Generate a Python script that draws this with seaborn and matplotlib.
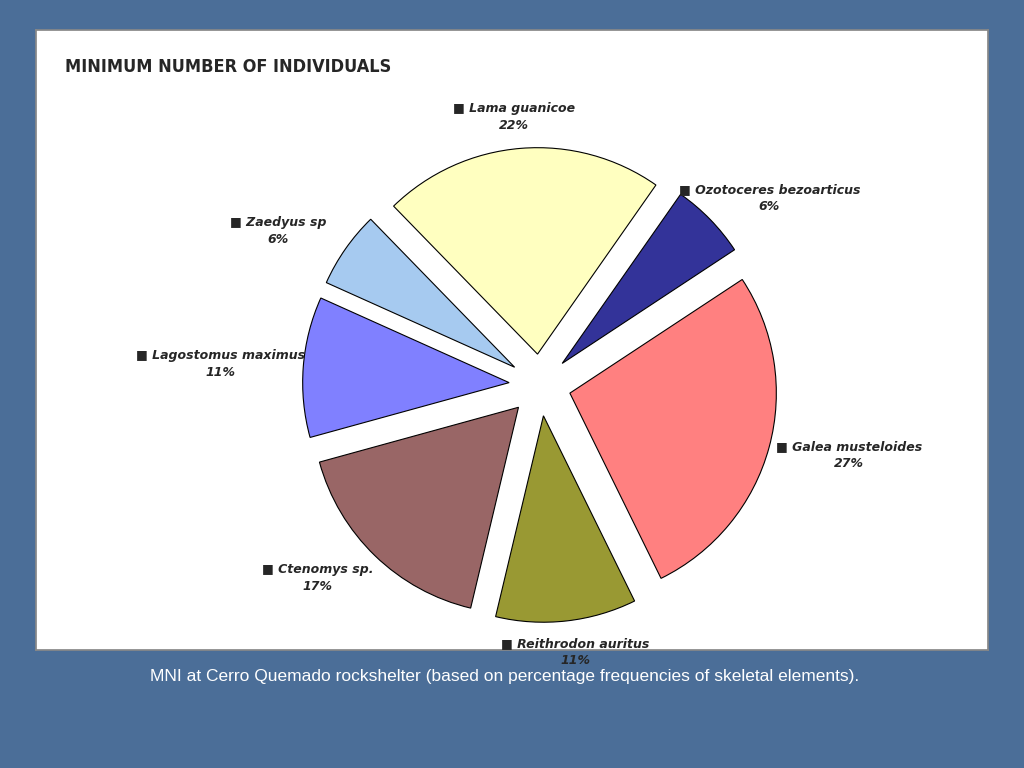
import numpy as np
import matplotlib
matplotlib.use("Agg")
import matplotlib.pyplot as plt
import seaborn as sns

species = ["Ozotoceres bezoarticus", "Galea musteloides", "Reithrodon auritus",
           "Ctenomys sp.", "Lagostomus maximus", "Zaedyus sp", "Lama guanicoe"]
percent = [6, 27, 11, 17, 11, 6, 22]
colors = ["#333399", "#FF8080", "#999933", "#996666", "#8080FF", "#A6CAF0", "#FFFFC0"]

sns.set_theme(style="white")
fig = plt.figure(figsize=(10.24, 7.68), dpi=100)
fig.patch.set_facecolor("#4B6E98")

panel = fig.add_axes([36 / 1024, 1 - 650 / 768, 952 / 1024, 620 / 768])
panel.set_facecolor("white")
panel.set_xticks([]); panel.set_yticks([])
for s in panel.spines.values():
    s.set_color("#888888")
panel.text(0.03, 0.955, "MINIMUM NUMBER OF INDIVIDUALS", transform=panel.transAxes,
           fontsize=13, fontweight="bold", va="top", family="DejaVu Sans",
           fontstretch="condensed")

ax = fig.add_axes([(540 - 320) / 1024, (768 - 385 - 320) / 768, 640 / 1024, 640 / 768])
wedges, _ = ax.pie(percent, colors=colors, startangle=55, counterclock=False,
                   explode=[0.15] * len(percent),
                   wedgeprops=dict(edgecolor="black", linewidth=0.8))
ax.set_xlim(-1.55, 1.55); ax.set_ylim(-1.55, 1.55)
ax.set_aspect("equal")

for w, name, p, c in zip(wedges, species, percent, colors):
    mid = np.deg2rad((w.theta1 + w.theta2) / 2)
    x, y = 1.55 * np.cos(mid), 1.3 * np.sin(mid)
    ax.text(x, y, "\u25A0 " + name + "\n" + f"{p}%", ha="center", va="center",
            fontsize=9, fontweight="bold", style="italic", family="DejaVu Sans",
            linespacing=1.4)

fig.text(505 / 1024, 1 - 676 / 768,
         "MNI at Cerro Quemado rockshelter (based on percentage frequencies of skeletal elements).",
         color="white", fontsize=12.5, ha="center", va="center", family="Liberation Sans")

fig.savefig("out.png", dpi=100, facecolor=fig.get_facecolor())
